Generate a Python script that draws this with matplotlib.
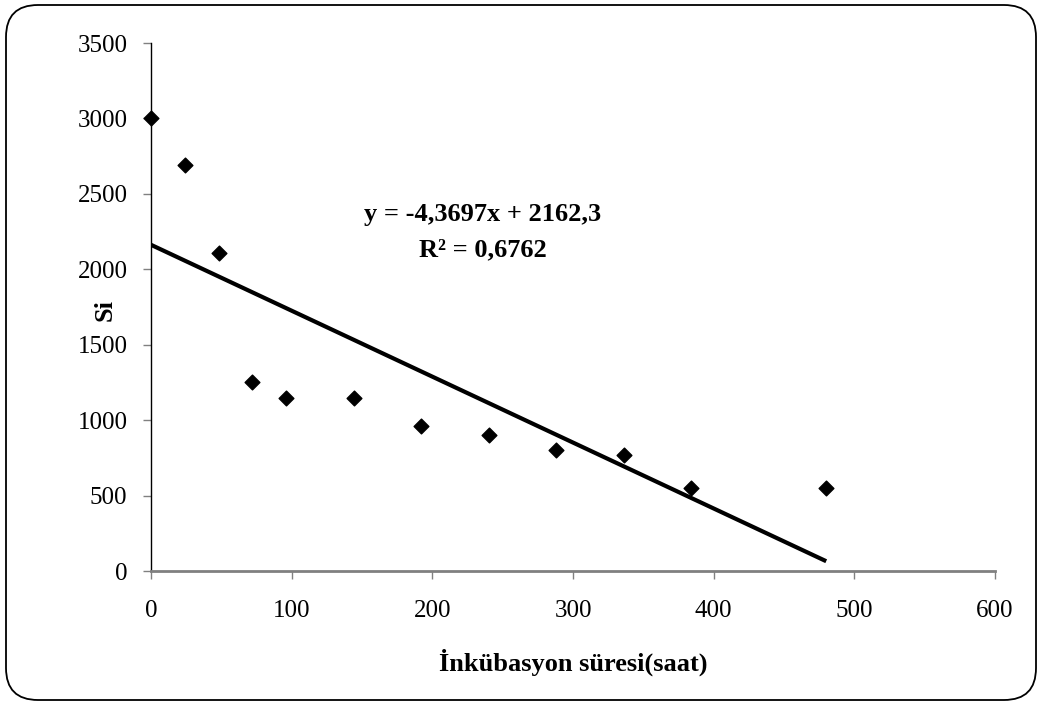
import matplotlib
matplotlib.use("Agg")
import matplotlib.pyplot as plt
from matplotlib.patches import FancyBboxPatch
from matplotlib.transforms import IdentityTransform

# Incubation time (hours) and Si values
hours = [0, 24, 48, 72, 96, 144, 192, 240, 288, 336, 384, 480]
si = [3000, 2690, 2110, 1250, 1150, 1150, 960, 900, 800, 770, 550, 550]

# Linear trendline coefficients
slope = -4.3697
intercept = 2162.3
r_squared = 0.6762

x_ticks = [0, 100, 200, 300, 400, 500, 600]
y_ticks = [0, 500, 1000, 1500, 2000, 2500, 3000, 3500]

plt.rcParams['font.family'] = ['Liberation Serif', 'DejaVu Serif']

fig = plt.figure(figsize=(10.42, 7.03), dpi=100)
ax = fig.add_axes([151 / 1042, 1 - 571 / 703, (995 - 151) / 1042, (571 - 43) / 703])

ax.scatter(hours, si, marker='D', s=7.5 ** 2, color='black', zorder=3, clip_on=False)

x_line = [min(hours), max(hours)]
y_line = [slope * x + intercept for x in x_line]
ax.plot(x_line, y_line, color='black', lw=3, solid_capstyle='butt', zorder=2)

ax.set_xlim(0, 600)
ax.set_ylim(0, 3500)
ax.set_xticks(x_ticks)
ax.set_yticks(y_ticks)

for side in ('top', 'right'):
    ax.spines[side].set_visible(False)
ax.spines['left'].set_color('black')
ax.spines['left'].set_linewidth(1.0)
ax.spines['bottom'].set_color('#808080')
ax.spines['bottom'].set_linewidth(2.0)

ax.tick_params(axis='y', direction='out', length=6, width=1, color='#808080',
               pad=11, labelsize=18)
ax.tick_params(axis='x', direction='out', length=6, width=1, color='#808080',
               pad=15, labelsize=18)

ax.set_xlabel('İnkübasyon süresi(saat)', fontsize=19, fontweight='bold', labelpad=19)
ax.set_ylabel('Si', fontsize=19, fontweight='bold', va='center')
ax.yaxis.set_label_coords(-0.054, 0.495)

eq = f'y = {slope:.4f}x + {intercept:.1f}'.replace('.', ',')
r2 = f'R\u00b2 = {r_squared:.4f}'.replace('.', ',')
fig.text(483 / 1042, 1 - 215 / 703, eq, ha='center', va='center',
         fontsize=19, fontweight='bold')
fig.text(483 / 1042, 1 - 250 / 703, r2, ha='center', va='center',
         fontsize=19, fontweight='bold')

border = FancyBboxPatch((6, 3), 1030, 695,
                        boxstyle='round,pad=0,rounding_size=32',
                        transform=IdentityTransform(),
                        facecolor='none', edgecolor='black', lw=1.3)
fig.patches.append(border)

fig.savefig('out.png', dpi=100)
